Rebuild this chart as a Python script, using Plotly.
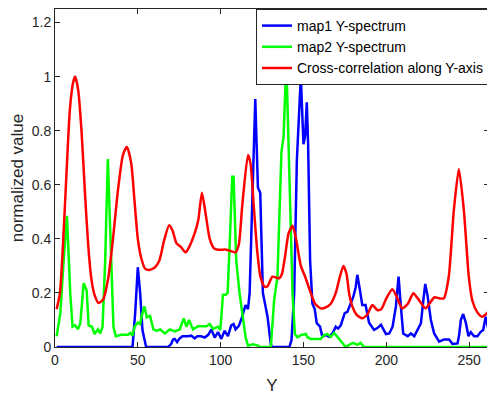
import plotly.graph_objects as go

# ---- data ----
red_x = [1, 3, 5, 7, 9, 11, 12.2, 14, 16, 18, 20, 22, 24, 26.3, 29, 32, 35, 38, 41, 43.4,
         46, 48, 50, 52, 54.4, 57, 60.4, 63, 65.7, 68.9, 71, 73.3, 76, 78.9, 81, 84.3, 86.5,
         88.7, 91, 93.4, 96, 98.4, 103.4, 106, 109, 111, 113, 116.5, 118, 120, 122, 124,
         126.5, 128.3, 131.3, 135.3, 137, 139, 141, 143.4, 145.5, 148.4, 151, 154.4, 157,
         160.4, 163, 166.5, 169.5, 172, 174.1, 176, 177.5, 179.5, 182, 185.5, 188.5, 191.6,
         194.6, 197, 200, 203.6, 206, 209.6, 213, 216.3, 219, 223.7, 226, 229.1, 232, 234.7,
         237.7, 240.8, 243.8, 246.8, 249.8, 252, 254.8, 257.8, 260.8, 262]
red_y = [0.14, 0.20, 0.40, 0.65, 0.88, 0.98, 1.0, 0.95, 0.80, 0.58, 0.38, 0.25, 0.19, 0.163,
         0.175, 0.25, 0.40, 0.58, 0.71, 0.74, 0.68, 0.54, 0.40, 0.33, 0.29, 0.285, 0.295,
         0.32, 0.39, 0.45, 0.43, 0.384, 0.37, 0.35, 0.37, 0.42, 0.47, 0.57, 0.49, 0.40,
         0.365, 0.36, 0.36, 0.355, 0.35, 0.38, 0.52, 0.71, 0.68, 0.52, 0.36, 0.26, 0.223,
         0.225, 0.26, 0.254, 0.27, 0.34, 0.42, 0.448, 0.40, 0.30, 0.26, 0.20, 0.16, 0.143,
         0.145, 0.16, 0.20, 0.26, 0.30, 0.27, 0.20, 0.15, 0.12, 0.106, 0.12, 0.155, 0.137,
         0.14, 0.18, 0.214, 0.19, 0.143, 0.16, 0.199, 0.18, 0.143, 0.16, 0.184, 0.18, 0.18,
         0.26, 0.507, 0.658, 0.507, 0.26, 0.17, 0.13, 0.112, 0.125, 0.135]

blue_x = [1, 46.8, 48.4, 50, 51.4, 52.8, 55, 68.3, 70, 71.3, 72.3, 73.7, 75, 76.9, 80, 82.3,
          84.3, 86, 88, 90.4, 92.5, 94.4, 96.4, 98.4, 100.4, 102.4, 104.4, 106.4, 107.8, 109,
          111, 113, 115, 116.5, 117.5, 119.1, 120.9, 122.5, 123.9, 125.5, 127.1, 128.3, 130.3,
          131, 141.5, 142.8, 144.4, 146, 148.4, 150, 151, 152, 152.8, 154, 155.4, 156.8, 158,
          160, 161.4, 163.4, 165.5, 167.5, 169.5, 170.9, 172.5, 174.9, 176.5, 178.1, 180.1,
          181.5, 182.5, 184.1, 185.5, 187.5, 188.8, 189.6, 192.6, 194.6, 196.8, 198.8, 199.8,
          201.8, 203.8, 205.8, 207.4, 208.8, 210.2, 212.9, 214.9, 216.9, 218.9, 220.9, 222.3,
          223.5, 224.9, 226.9, 228.9, 231.9, 234.9, 237.9, 240, 243, 244, 245, 246.4, 248,
          249.6, 251, 253, 255, 257, 258.5, 260, 261.7]
blue_y = [0, 0, 0.125, 0.295, 0.2, 0.063, 0, 0, 0.01, 0.028, 0.03, 0.018, 0.03, 0.04, 0.04,
          0.042, 0.032, 0.04, 0.04, 0.035, 0.045, 0.065, 0.035, 0.055, 0.03, 0.06, 0.04, 0.08,
          0.085, 0.065, 0.078, 0.112, 0.155, 0.14, 0.2, 0.57, 0.917, 0.59, 0.57, 0.2, 0.15,
          0.112, 0.01, 0, 0, 0.026, 0.2, 0.69, 1.0, 0.75, 0.78, 0.905, 0.75, 0.32, 0.16, 0.14,
          0.088, 0.075, 0.038, 0.045, 0.038, 0.05, 0.075, 0.068, 0.08, 0.125, 0.13, 0.155,
          0.186, 0.22, 0.267, 0.21, 0.155, 0.155, 0.11, 0.09, 0.063, 0.07, 0.082, 0.056,
          0.048, 0.05, 0.075, 0.15, 0.26, 0.15, 0.05, 0.04, 0.05, 0.04, 0.063, 0.088, 0.17,
          0.233, 0.19, 0.1, 0.05, 0.02, 0.028, 0.028, 0.011, 0.013, 0.045, 0.1, 0.122, 0.09,
          0.04, 0.055, 0.04, 0.04, 0.056, 0.063, 0.112, 0.063]

green_x = [1, 3.2, 5, 7.2, 9.2, 10.6, 12.2, 13.8, 15.3, 17.3, 19.1, 20.3, 22.3, 23.9, 25.9,
           27.3, 28.7, 30.3, 31.9, 33.9, 35.3, 36.7, 40, 44, 45.4, 46.8, 48, 50, 51.4, 52.5,
           54, 55.4, 57.4, 59.4, 61.5, 63.5, 66.3, 69.3, 72.3, 75.3, 77.7, 79.3, 80.9, 83.3,
           86.3, 91.4, 93.4, 95.4, 98.4, 99.8, 101.4, 103, 104.2, 105.4, 107, 107.8, 109.4,
           111.4, 113, 115, 116.5, 119.5, 122.5, 124, 130.3, 132.3, 134.3, 136, 136.7, 138,
           139.3, 140, 142, 143.4, 144.8, 146.4, 148.4, 151.4, 152.4, 154.4, 160.4, 162.4,
           164.4, 166.5, 168.5, 170.5, 173.5, 175.5, 177.5, 180, 182.5, 184.5, 186.5, 262]
green_y = [0.04, 0.125, 0.3, 0.485, 0.2, 0.075, 0.08, 0.066, 0.088, 0.236, 0.21, 0.08,
           0.075, 0.048, 0.065, 0.05, 0.075, 0.32, 0.695, 0.32, 0.075, 0.04, 0.045, 0.045,
           0.052, 0.042, 0.075, 0.09, 0.085, 0.12, 0.15, 0.11, 0.115, 0.065, 0.06, 0.065,
           0.05, 0.065, 0.058, 0.065, 0.106, 0.075, 0.1, 0.065, 0.077, 0.077, 0.085, 0.067,
           0.075, 0.063, 0.193, 0.193, 0.2, 0.37, 0.63, 0.63, 0.32, 0.2, 0.12, 0.038, 0.005,
           0.01, 0.005, 0, 0, 0.174, 0.26, 0.57, 0.72, 0.78, 1.0, 0.975, 0.57, 0.2, 0.048,
           0.036, 0.044, 0.048, 0.036, 0.03, 0.03, 0.044, 0.048, 0.038, 0.052, 0.038, 0.013,
           0, 0.008, 0.015, 0.008, 0.015, 0, 0]

names = ["map1 Y-spectrum", "map2 Y-spectrum", "Cross-correlation along Y-axis"]
x_ticks = [0, 50, 100, 150, 200, 250]
y_ticks = [0, 0.2, 0.4, 0.6, 0.8, 1, 1.2]
y_tick_text = ["0", "0.2", "0.4", "0.6", "0.8", "1", "1.2"]

FONT = "Liberation Sans, Arial, sans-serif"
AX = "#262626"

fig = go.Figure()
fig.add_trace(go.Scatter(x=blue_x, y=blue_y, mode="lines", name=names[0],
                         line=dict(color="#0000FF", width=2.5)))
fig.add_trace(go.Scatter(x=green_x, y=green_y, mode="lines", name=names[1],
                         line=dict(color="#00FF00", width=2.5)))
fig.add_trace(go.Scatter(x=red_x, y=red_y, mode="lines", name=names[2],
                         line=dict(color="#FF0000", width=2.5, shape="spline", smoothing=0.6)))

axis_common = dict(showgrid=False, zeroline=False, showline=True, linecolor=AX, linewidth=1,
                   mirror="ticks", ticks="inside", ticklen=5, tickcolor=AX, tickwidth=1,
                   automargin=False,
                   tickfont=dict(family=FONT, size=14, color=AX))

# page body has an 8px margin, so the figure is drawn 8px in from the window edge
fig.update_layout(
    width=487, height=390,
    margin=dict(l=47, r=6, t=1, b=51),
    paper_bgcolor="white", plot_bgcolor="white",
    font=dict(family=FONT, size=14, color=AX),
    xaxis=dict(range=[0, 262], tickvals=x_ticks,
               title=dict(text="Y", font=dict(family=FONT, size=17, color=AX), standoff=12),
               **axis_common),
    yaxis=dict(range=[0, 1.25], tickvals=y_ticks, ticktext=y_tick_text,
               title=dict(text="normalized value", font=dict(family=FONT, size=17, color=AX),
                          standoff=9),
               **axis_common),
    legend=dict(x=1, xanchor="right", y=1, yanchor="top", bgcolor="white",
                bordercolor=AX, borderwidth=1, font=dict(family=FONT, size=14, color="black"),
                tracegroupgap=0, itemwidth=30),
    showlegend=True,
)

fig.write_html("out.html")
